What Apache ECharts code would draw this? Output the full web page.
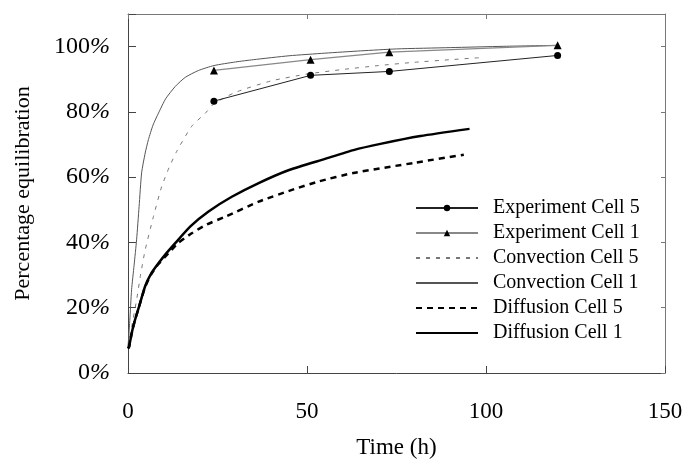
<!DOCTYPE html>
<html><head><meta charset="utf-8">
<script src="https://cdn.jsdelivr.net/npm/echarts@6/dist/echarts.min.js"></script>
<style>html,body{margin:0;padding:0;background:#fff}#c{width:688px;height:465px}</style>
</head><body><div id="c"></div>
<script>
const xTicks = [0, 50, 100, 150];
const yTicks = [0, 20, 40, 60, 80, 100];
const seriesNames = ['Experiment Cell 5','Experiment Cell 1','Convection Cell 5','Convection Cell 1','Diffusion Cell 5','Diffusion Cell 1'];
const expCell5 = [[24,83.3],[51,91.2],[73,92.4],[120,97.3]];
const expCell1 = [[24,92.7],[51,96],[73,98.3],[120,100.4]];
const convCell5 = [[0,8],[0.5,11],[1,14],[2.4,22.4],[3.5,30],[4.8,37.7],[7.1,47.9],[9.4,57.1],[11.5,63],[13.6,67.9],[17.8,75.6],[21.6,79.6],[24,82.5],[30,86],[40,89.5],[50,91.6],[60,93],[70,94.2],[80,95.2],[90,96],[98,96.6]];
const convCell1 = [[0,8],[0.5,16],[1,25.5],[1.7,33],[2.4,40.8],[3.1,51],[3.8,61.3],[4.8,67.4],[5.7,71.5],[7,76],[8.5,79.6],[10.5,84],[13.2,87.8],[16,90.6],[19.7,92.7],[24,94.2],[30,95.3],[35,96],[45,97.2],[55,98],[65,98.7],[75,99.3],[90,99.7],[105,100.1],[120,100.4]];
const diffCell5 = [[0,7.5],[0.3,8],[0.56,9.5],[1.2,13],[1.96,16.3],[3,20],[4.76,26.3],[6.5,30.3],[8.5,33.4],[11.3,36.7],[14,39.8],[17.8,42.8],[22,45.5],[27.2,47.9],[36.5,52.5],[45.8,56.1],[53.3,58.7],[63,61.3],[80,64.4],[93.8,66.9]];
const diffCell1 = [[0,7.5],[0.3,8],[0.56,9.5],[1.2,13],[1.96,16.3],[3,20],[4.76,26.5],[6.5,30.5],[8.5,33.6],[10.8,36.8],[13.2,39.8],[17.5,45],[22.5,49.5],[29,54],[36.5,58.2],[45,62.2],[55,65.6],[63,68.3],[70.5,70.2],[81.7,72.6],[95.4,74.8]];

const font = '"Liberation Serif", "DejaVu Serif", serif';
const axisCol = '#444';
const chart = echarts.init(document.getElementById('c'));
const common = {type:'line', animation:false};
const hideSym = {itemStyle:{opacity:0}};
chart.setOption({
  animation:false,
  textStyle:{fontFamily:font, color:'#000'},
  grid:{left:128, right:23, top:14, bottom:92, show:false},
  legend:{
    orient:'vertical', left:410, top:193, itemWidth:62, itemHeight:8, itemGap:5,
    data:[
      {name:seriesNames[0]},
      {name:seriesNames[1]},
      Object.assign({name:seriesNames[2]}, hideSym),
      Object.assign({name:seriesNames[3]}, hideSym),
      Object.assign({name:seriesNames[4]}, hideSym),
      Object.assign({name:seriesNames[5]}, hideSym)
    ],
    textStyle:{fontFamily:font, fontSize:20, color:'#000', padding:[0,0,0,10]}
  },
  xAxis:[{
    type:'value', min:0, max:150, interval:50, position:'bottom',
    name:'Time (h)', nameLocation:'middle', nameGap:63,
    nameTextStyle:{fontFamily:font, fontSize:23, color:'#000'},
    axisLine:{show:true, onZero:false, lineStyle:{color:axisCol, width:1}},
    axisTick:{show:true, inside:true, length:7, lineStyle:{color:axisCol}},
    axisLabel:{fontFamily:font, fontSize:23, color:'#000', margin:27,
      formatter:v => xTicks.includes(v) ? String(v) : ''},
    splitLine:{show:false}
  },{
    type:'value', min:0, max:150, interval:50, position:'top',
    axisLine:{show:true, onZero:false, lineStyle:{color:'#777', width:1}},
    axisTick:{show:true, inside:true, length:5, lineStyle:{color:'#777'}},
    axisLabel:{show:false}, splitLine:{show:false}
  }],
  yAxis:[{
    type:'value', min:0, max:110, interval:20, position:'left',
    name:'Percentage equilibration', nameLocation:'middle', nameGap:94,
    nameTextStyle:{fontFamily:font, fontSize:22, color:'#000'},
    axisLine:{show:true, onZero:false, lineStyle:{color:axisCol, width:1}},
    axisTick:{show:true, inside:true, length:8, lineStyle:{color:axisCol}},
    axisLabel:{fontFamily:font, fontSize:24, color:'#000', margin:18,
      formatter:v => yTicks.includes(v) ? '{n|' + v + '}{p|%}' : '',
      rich:{n:{fontFamily:font, fontSize:24, color:'#000'}, p:{fontFamily:font, fontSize:24, fontStyle:'italic', color:'#000'}}},
    splitLine:{show:false}
  },{
    type:'value', min:0, max:110, interval:20, position:'right',
    axisLine:{show:true, onZero:false, lineStyle:{color:'#777', width:1}},
    axisTick:{show:true, inside:true, length:4, lineStyle:{color:'#777'}},
    axisLabel:{show:false}, splitLine:{show:false}
  }],
  series:[
    Object.assign({}, common, {name:seriesNames[0], data:expCell5, symbol:'circle', symbolSize:7,
      lineStyle:{color:'#222', width:1}, itemStyle:{color:'#000'}, z:5}),
    Object.assign({}, common, {name:seriesNames[1], data:expCell1, symbol:'triangle', symbolSize:8,
      lineStyle:{color:'#888', width:1.3}, itemStyle:{color:'#000'}, z:5}),
    Object.assign({}, common, {name:seriesNames[2], data:convCell5, symbol:'none', smooth:0.2,
      lineStyle:{color:'#777', width:1, type:[4,6]}, itemStyle:{color:'#777'}}),
    Object.assign({}, common, {name:seriesNames[3], data:convCell1, symbol:'none', smooth:0.2,
      lineStyle:{color:'#555', width:1}, itemStyle:{color:'#555'}}),
    Object.assign({}, common, {name:seriesNames[4], data:diffCell5, symbol:'none', smooth:0.2,
      lineStyle:{color:'#000', width:2.5, type:[6,5]}, itemStyle:{color:'#000'}}),
    Object.assign({}, common, {name:seriesNames[5], data:diffCell1, symbol:'none', smooth:0.2,
      lineStyle:{color:'#000', width:2.5}, itemStyle:{color:'#000'}})
  ]
});
</script></body></html>
